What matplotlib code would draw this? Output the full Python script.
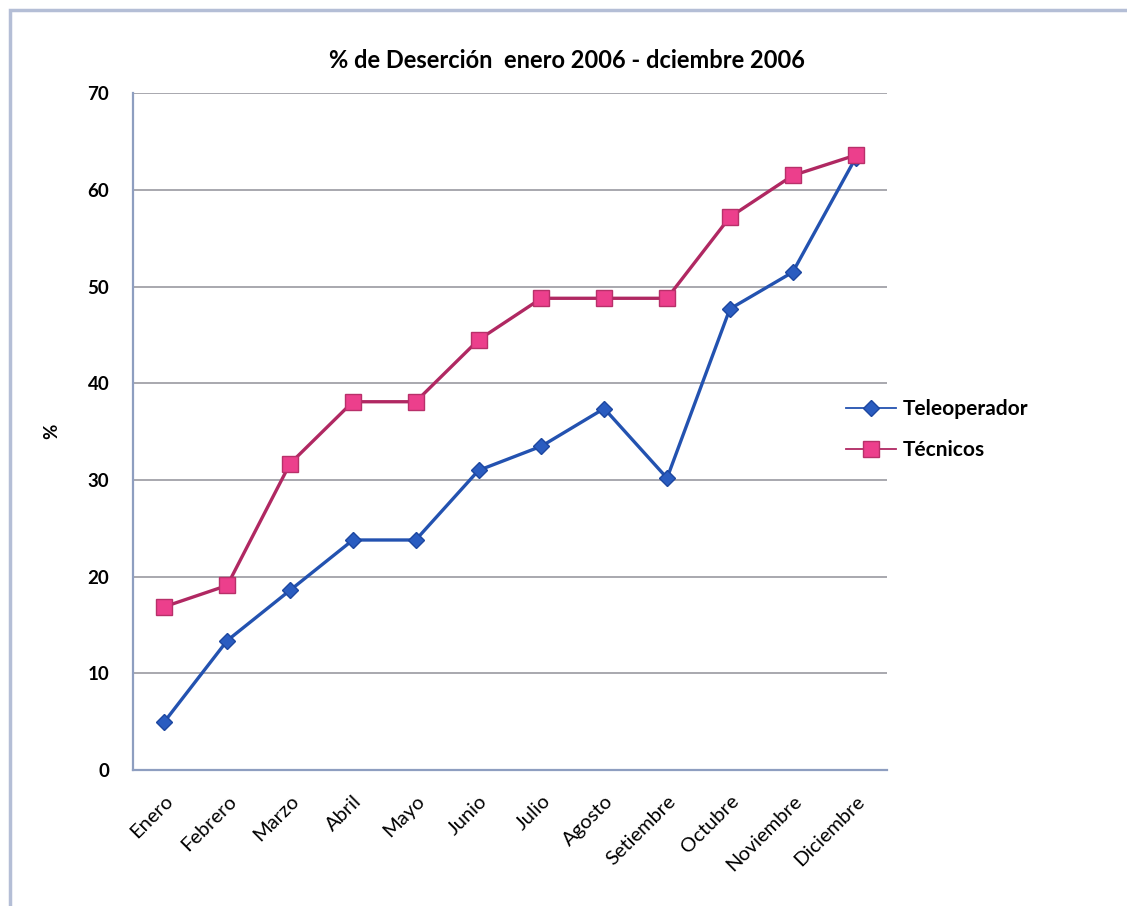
import matplotlib.pyplot as plt
from matplotlib.patches import Rectangle

plt.rcParams['font.family'] = ['Lato', 'DejaVu Sans']

meses = ['Enero', 'Febrero', 'Marzo', 'Abril', 'Mayo', 'Junio', 'Julio',
         'Agosto', 'Setiembre', 'Octubre', 'Noviembre', 'Diciembre']
teleoperador = [5.0, 13.4, 18.6, 23.8, 23.8, 31.0, 33.5, 37.4, 30.2, 47.7, 51.5, 63.3]
tecnicos = [16.9, 19.1, 31.7, 38.1, 38.1, 44.5, 48.8, 48.8, 48.8, 57.2, 61.5, 63.6]
yticks = [0, 10, 20, 30, 40, 50, 60, 70]

fig = plt.figure(figsize=(11.27, 9.06), dpi=100)

# outer chart frame (only left and top edges fall inside the image)
fig.patches.append(Rectangle((0.009, -0.1), 1.2, 1.089, transform=fig.transFigure,
                             fill=False, edgecolor='#b4bed6', lw=2.5))

ax = fig.add_axes([0.118, 0.150, 0.669, 0.747])
x = range(len(meses))

ax.plot(x, teleoperador, color='#2352b0', lw=2.4, marker='D', ms=8.5,
        mfc='#2a5cc0', mec='#1d47a0', label='Teleoperador', zorder=3)
ax.plot(x, tecnicos, color='#b02862', lw=2.4, marker='s', ms=11.5,
        mfc='#ec3f8c', mec='#b8306a', label='Técnicos', zorder=3)

ax.set_xlim(-0.5, len(meses) - 0.5)
ax.set_ylim(0, 70)
ax.set_yticks(yticks)
ax.set_yticklabels([str(v) for v in yticks], fontsize=13.5, fontweight='bold')
ax.set_xticks(list(x))
ax.set_xticklabels(meses, rotation=45, ha='right', rotation_mode='anchor', fontsize=14.5)
ax.tick_params(axis='both', length=0)
ax.tick_params(axis='y', pad=17)
ax.tick_params(axis='x', pad=16)

ax.grid(axis='y', color='#a8a8ae', lw=1.4)
ax.set_axisbelow(True)
for s in ['top', 'right']:
    ax.spines[s].set_visible(False)
for s in ['left', 'bottom']:
    ax.spines[s].set_color('#8e9ec0')
    ax.spines[s].set_linewidth(1.6)

ax.set_ylabel('%', fontsize=13.5, fontweight='bold', labelpad=20)
# title is centred on the whole chart box, not just the plot area
ax.set_title('% de Deserción  enero 2006 - dciembre 2006', fontsize=17,
             fontweight='bold', pad=18, x=0.576)

leg = ax.legend(loc='center left', bbox_to_anchor=(0.751, 0.526), bbox_transform=fig.transFigure,
                frameon=False, handlelength=2.4, handletextpad=0.3, labelspacing=1.0,
                borderpad=0, borderaxespad=0, prop={'weight': 'bold', 'size': 15})
for ln in leg.get_lines():
    ln.set_linewidth(1.3)

fig.savefig('out.png', dpi=100, facecolor='white')
